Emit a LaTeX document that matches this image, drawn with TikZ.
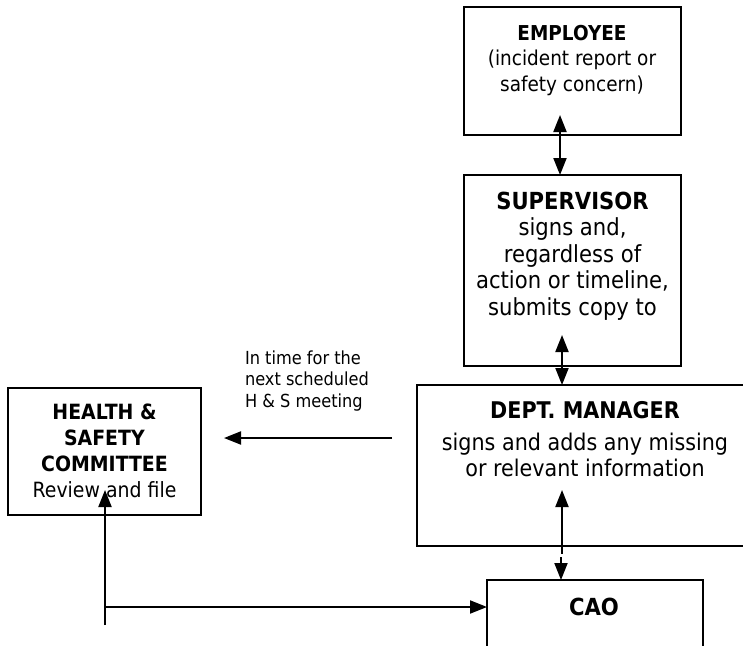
\documentclass[tikz,border=0pt]{standalone}
\usepackage{fontspec}
\setmainfont{DejaVu Sans}[FakeStretch=0.9]
\usetikzlibrary{arrows.meta}
\begin{document}
\begin{tikzpicture}[x=1pt,y=-1pt,
  box/.style={draw=black, line width=1.8pt, rectangle, inner sep=0pt, outer sep=0pt},
  txt/.style={inner sep=0pt, outer sep=0pt, align=center, anchor=base, text=black},
  conn/.style={line width=2pt, draw=black},
  tip/.tip={Triangle[width=13pt,length=17pt]},
  to/.style={conn, -tip},
  from/.style={conn, tip-},
  both/.style={conn, tip-tip}]
\useasboundingbox (0,0) rectangle (743,645);
\clip (0,0) rectangle (743,645);
\fill[white] (0,0) rectangle (743,645);

% boxes
\node[box, minimum width=217pt, minimum height=128pt] (emp) at (572.5,71) {};
\node[box, minimum width=217pt, minimum height=191pt] (sup) at (572.5,270.5) {};
\node[box, minimum width=336pt, minimum height=161pt] (dept) at (585,465.5) {};
\node[box, minimum width=193pt, minimum height=127pt] (hsc) at (104.5,451.5) {};
\node[box, minimum width=216pt, minimum height=100pt] (cao) at (595,630) {};

% texts (anchor = baseline of the last line)
\node[txt, font={\fontsize{20.5}{25.5}\selectfont}] (empt) at (572,91)
  {\textbf{EMPLOYEE}\\(incident report or\\safety concern)};
\node[txt, font={\fontsize{23.5}{26.5}\selectfont}] (supt) at (572.5,315)
  {\textbf{SUPERVISOR}\\signs and,\\regardless of\\action or timeline,\\submits copy to};
\node[txt, font={\fontsize{23}{26}\selectfont}] (deptt) at (585,476)
  {\textbf{DEPT. MANAGER}\\[6pt]signs and adds any missing\\or relevant information};
\node[txt, font={\fontsize{21}{26}\selectfont}] (hsct) at (104.5,497)
  {\textbf{HEALTH \&}\\\textbf{SAFETY}\\\textbf{COMMITTEE}\\Review and file};
\node[txt, font={\fontsize{23.5}{26}\selectfont\bfseries}] (caot) at (594,615) {CAO};
\node[txt, align=left, anchor=base west, font={\fontsize{18}{21.5}\selectfont}] (lbl) at (245,407)
  {In time for the\\next scheduled\\H \& S meeting};

% connectors
\coordinate (a1s) at (560,115);
\draw[both] (a1s) -- (a1s |- sup.north);
\coordinate (a2s) at (562,335);
\draw[both] (a2s) -- (a2s |- dept.north);
\coordinate (a3top) at (562,490);
\coordinate (a3mid) at (562,554);
\draw[from] (a3top) -- (a3mid);
\coordinate (a3low) at (561,557);
\draw[to] (a3low) -- (a3low |- cao.north);
\coordinate (a4s) at (392,438);
\draw[to, shorten >=23pt] (a4s) -- (a4s -| hsc.east);
\coordinate (a5s) at (105,625);
\coordinate (a5e) at (105,490);
\draw[to] (a5s) -- (a5e);
\coordinate (a6s) at (105,607);
\draw[to] (a6s) -- (a6s -| cao.west);
\end{tikzpicture}
\end{document}
